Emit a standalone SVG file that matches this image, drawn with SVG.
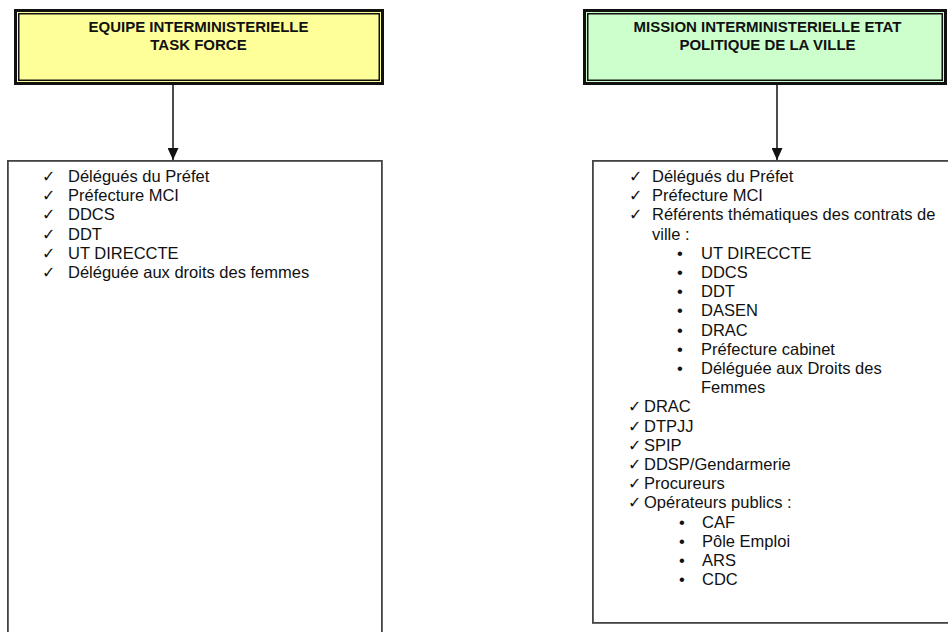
<svg xmlns="http://www.w3.org/2000/svg" width="948" height="632" viewBox="0 0 948 632">
<style>
.hdr{font-family:"Liberation Sans",Arial,sans-serif;font-size:15px;font-weight:bold;fill:#111;text-anchor:middle}
.t{font-family:"Liberation Sans",Arial,sans-serif;font-size:16.5px;fill:#111}
.ck{font-family:"DejaVu Sans",sans-serif;font-size:16px;fill:#111}
.outer{stroke:#111;stroke-width:3}
.inner{fill:none;stroke:#111;stroke-width:1.5}
.box{fill:#fff;stroke:#444;stroke-width:1.8}
.conn{stroke:#111;stroke-width:1.5;fill:none}
</style>
<defs>
<marker id="arr" markerUnits="userSpaceOnUse" viewBox="0 0 12 11" markerWidth="12" markerHeight="11" refX="12" refY="5.5" orient="auto">
<path d="M0,0 L12,5.5 L0,11 z" fill="#111"/>
</marker>
</defs>
<rect width="948" height="632" fill="#fff"/>

<g id="header-left">
<rect class="outer" x="15.5" y="10.5" width="367" height="73" fill="#ffff99"/>
<rect class="inner" x="18.75" y="13.75" width="360.5" height="66.5"/>
<text class="hdr" x="198.5" y="32">EQUIPE INTERMINISTERIELLE</text>
<text class="hdr" x="198.5" y="50">TASK FORCE</text>
</g>

<g id="header-right">
<rect class="outer" x="584.5" y="10.5" width="361" height="73" fill="#ccffcc"/>
<rect class="inner" x="587.75" y="13.75" width="354.5" height="66.5"/>
<text class="hdr" x="767.5" y="32">MISSION INTERMINISTERIELLE ETAT</text>
<text class="hdr" x="767.5" y="50">POLITIQUE DE LA VILLE</text>
</g>

<g id="connectors">
<line class="conn" x1="173" y1="85" x2="173" y2="160" marker-end="url(#arr)"/>
<line class="conn" x1="777" y1="85" x2="777" y2="160" marker-end="url(#arr)"/>
</g>

<g id="list-left">
<rect class="box" x="7.9" y="160.9" width="374" height="490"/>
<text class="ck" x="42" y="182">✓</text><text class="t" x="68" y="182">Délégués du Préfet</text>
<text class="ck" x="42" y="201.2">✓</text><text class="t" x="68" y="201.2">Préfecture MCI</text>
<text class="ck" x="42" y="220.4">✓</text><text class="t" x="68" y="220.4">DDCS</text>
<text class="ck" x="42" y="239.6">✓</text><text class="t" x="68" y="239.6">DDT</text>
<text class="ck" x="42" y="258.8">✓</text><text class="t" x="68" y="258.8">UT DIRECCTE</text>
<text class="ck" x="42" y="278">✓</text><text class="t" x="68" y="278">Déléguée aux droits des femmes</text>
</g>

<g id="list-right">
<rect class="box" x="592.9" y="160.9" width="380" height="462"/>
<text class="ck" x="629" y="182">✓</text><text class="t" x="652" y="182">Délégués du Préfet</text>
<text class="ck" x="629" y="201.2">✓</text><text class="t" x="652" y="201.2">Préfecture MCI</text>
<text class="ck" x="629" y="220.4">✓</text><text class="t" x="652" y="220.4">Référents thématiques des contrats de</text>
<text class="t" x="652" y="239.6">ville :</text>
<text class="t" x="677" y="258.8">•</text><text class="t" x="701" y="258.8">UT DIRECCTE</text>
<text class="t" x="677" y="278">•</text><text class="t" x="701" y="278">DDCS</text>
<text class="t" x="677" y="297.2">•</text><text class="t" x="701" y="297.2">DDT</text>
<text class="t" x="677" y="316.4">•</text><text class="t" x="701" y="316.4">DASEN</text>
<text class="t" x="677" y="335.6">•</text><text class="t" x="701" y="335.6">DRAC</text>
<text class="t" x="677" y="354.8">•</text><text class="t" x="701" y="354.8">Préfecture cabinet</text>
<text class="t" x="677" y="374">•</text><text class="t" x="701" y="374">Déléguée aux Droits des</text>
<text class="t" x="701" y="393.2">Femmes</text>
<text class="ck" x="628" y="412.4">✓</text><text class="t" x="644" y="412.4">DRAC</text>
<text class="ck" x="628" y="431.6">✓</text><text class="t" x="644" y="431.6">DTPJJ</text>
<text class="ck" x="628" y="450.8">✓</text><text class="t" x="644" y="450.8">SPIP</text>
<text class="ck" x="628" y="470">✓</text><text class="t" x="644" y="470">DDSP/Gendarmerie</text>
<text class="ck" x="628" y="489.2">✓</text><text class="t" x="644" y="489.2">Procureurs</text>
<text class="ck" x="628" y="508.4">✓</text><text class="t" x="644" y="508.4">Opérateurs publics :</text>
<text class="t" x="679" y="527.6">•</text><text class="t" x="702" y="527.6">CAF</text>
<text class="t" x="679" y="546.8">•</text><text class="t" x="702" y="546.8">Pôle Emploi</text>
<text class="t" x="679" y="566">•</text><text class="t" x="702" y="566">ARS</text>
<text class="t" x="679" y="585.2">•</text><text class="t" x="702" y="585.2">CDC</text>
</g>
</svg>
